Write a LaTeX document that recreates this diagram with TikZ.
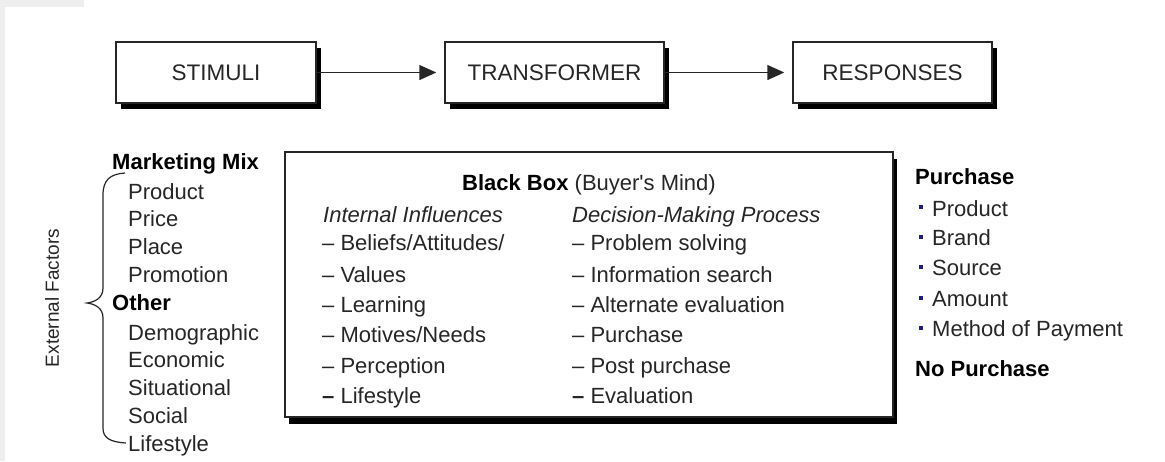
\documentclass[tikz,border=0pt]{standalone}
\usepackage{fontspec}
\setmainfont{Liberation Sans}[Ligatures=TeXOff]
\usetikzlibrary{arrows.meta,shadows}
\definecolor{txt}{HTML}{262626}
\definecolor{bul}{HTML}{1E1E78}
\definecolor{edgegray}{HTML}{EEEEEE}
\begin{document}
\begin{tikzpicture}[x=1pt,y=-1pt,
  topbox/.style={draw=black!85, line width=1.5pt, fill=white, inner sep=0pt,
    minimum height=61pt, font=\fontsize{22.5}{26}\selectfont, text=txt,
    drop shadow={shadow xshift=5pt, shadow yshift=-6pt, fill=black, opacity=1}},
  bigbox/.style={draw=black!85, line width=1.5pt, fill=white, inner sep=0pt,
    drop shadow={shadow xshift=4pt, shadow yshift=-7pt, fill=black, opacity=1}},
  lbl/.style={anchor=west, inner sep=0pt, text=txt, font=\fontsize{22}{26}\selectfont,
    text height=15.5pt, text depth=0pt},
  hdr/.style={lbl, font=\fontsize{22}{26}\selectfont\bfseries, text=black},
  ital/.style={lbl, font=\fontsize{22}{26}\selectfont\itshape},
  arr/.style={line width=1.5pt, draw=black!85, -{Triangle[length=17pt,width=15pt]}, shorten >=8pt},
  bulletsq/.style={fill=bul, inner sep=0pt, minimum size=4pt},
  bracestyle/.style={line width=1.2pt, draw=txt},
]
\useasboundingbox (0,0) rectangle (1165,461);
\fill[white] (0,0) rectangle (1165,461);
\fill[edgegray] (0,0) rectangle (5,461);
\fill[edgegray] (0,0) rectangle (84,7);

% top row
\node[topbox, minimum width=200pt] (stim) at (216,72.5) {STIMULI};
\node[topbox, minimum width=219pt] (trans) at (554.5,72.5) {TRANSFORMER};
\node[topbox, minimum width=199pt] (resp) at (892.5,72.5) {RESPONSES};
\draw[arr] (stim.east) -- (trans.west);
\draw[arr] (trans.east) -- (resp.west);

% black box
\node[bigbox, minimum width=608pt, minimum height=265pt] (bb) at (589,284.5) {};
\node[lbl] (title) at (462,183) {\textcolor{black}{\bfseries Black Box} (Buyer's Mind)};
\node[ital] (ii) at (323,215) {Internal Influences};
\node[ital] (dmp) at (572,215) {Decision-Making Process};
\node[lbl] (i1) at (322,243) {– Beliefs/Attitudes/};
\node[lbl] (i2) at (322,275) {– Values};
\node[lbl] (i3) at (322,305) {– Learning};
\node[lbl] (i4) at (322,335) {– Motives/Needs};
\node[lbl] (i5) at (322,366) {– Perception};
\node[lbl] (i6) at (322,396) {{\bfseries –} Lifestyle};
\node[lbl] (d1) at (572,243) {– Problem solving};
\node[lbl] (d2) at (572,275) {– Information search};
\node[lbl] (d3) at (572,305) {– Alternate evaluation};
\node[lbl] (d4) at (572,335) {– Purchase};
\node[lbl] (d5) at (572,366) {– Post purchase};
\node[lbl] (d6) at (572,396) {{\bfseries –} Evaluation};

% left column
\node[hdr] (mm) at (112,162) {Marketing Mix};
\node[lbl] (m1) at (128,192) {Product};
\node[lbl] (m2) at (128,219) {Price};
\node[lbl] (m3) at (128,247) {Place};
\node[lbl] (m4) at (128,275) {Promotion};
\node[hdr] (oth) at (112,303) {Other};
\node[lbl] (o1) at (128,333) {Demographic};
\node[lbl] (o2) at (128,360) {Economic};
\node[lbl] (o3) at (128,388) {Situational};
\node[lbl] (o4) at (128,416) {Social};
\node[lbl] (o5) at (128,444) {Lifestyle};
\draw[bracestyle] (125,173) .. controls (110,174) and (103,180) .. (103,195)
  -- (103,288) .. controls (103,298) and (95,302) .. (87,303)
  .. controls (95,304) and (103,308) .. (103,318)
  -- (103,428) .. controls (103,438) and (110,442) .. (126,443);
\node[rotate=90, inner sep=0pt, text=txt, font=\fontsize{19}{22}\selectfont] (ext) at (52,298) {External Factors};

% right column
\node[hdr] (pur) at (915,177) {Purchase};
\node[bulletsq] (b1) at (921,207) {};
\node[bulletsq] (b2) at (921,237) {};
\node[bulletsq] (b3) at (921,267) {};
\node[bulletsq] (b4) at (921,298) {};
\node[bulletsq] (b5) at (921,328) {};
\node[lbl] (r1) at (932,209) {Product};
\node[lbl] (r2) at (932,238) {Brand};
\node[lbl] (r3) at (932,268) {Source};
\node[lbl] (r4) at (932,299) {Amount};
\node[lbl] (r5) at (932,329) {Method of Payment};
\node[hdr] (nop) at (915,369) {No Purchase};
\end{tikzpicture}
\end{document}
